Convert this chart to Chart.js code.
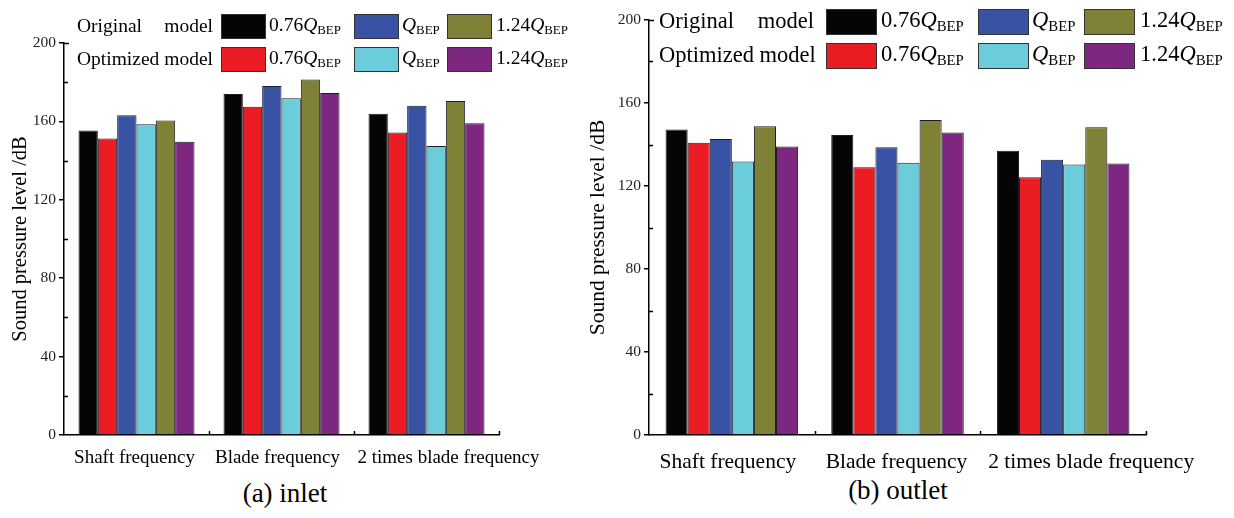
<!DOCTYPE html>
<html>
<head>
<meta charset="utf-8">
<script src="https://cdn.jsdelivr.net/npm/chart.js@4.4.0/dist/chart.umd.min.js"></script>
<style>
  body { margin: 0; background: #fff; width: 1234px; height: 518px; overflow: hidden; position: relative; font-family: "Liberation Serif", "Times New Roman", serif; }
  canvas { position: absolute; top: 0; }
  .lg { position: absolute; white-space: nowrap; color: #000; line-height: 1; }
  .box { position: absolute; border: 1px solid #333; box-sizing: border-box; }
  .lg sub { font-size: 0.66em; vertical-align: -0.25em; }
  .cap { position: absolute; font-size: 27px; text-align: center; width: 200px; }
</style>
</head>
<body>
<canvas id="inlet" width="560" height="475" style="left:0"></canvas>
<canvas id="outlet" width="654" height="475" style="left:580px"></canvas>
<div id="legends"></div>
<div class="cap" style="left:185px;top:478px">(a) inlet</div>
<div class="cap" style="left:798px;top:475px">(b) outlet</div>
<script>
// Data
const categories = ["Shaft frequency", "Blade frequency", "2 times blade frequency"];
const seriesLabels = ["Original 0.76Q_BEP", "Optimized 0.76Q_BEP", "Original Q_BEP", "Optimized Q_BEP", "Original 1.24Q_BEP", "Optimized 1.24Q_BEP"];
const seriesColors = ["#050505", "#ec1c24", "#3853a4", "#6bcddb", "#7f8136", "#7e2780"];

// inlet
const inletOrig076 = [155.4, 174.0, 163.9];
const inletOpt076 = [151.3, 167.5, 154.4];
const inletOrigQ = [163.1, 178.1, 168.0];
const inletOptQ = [158.5, 171.8, 147.5];
const inletOrig124 = [160.5, 181.4, 170.4];
const inletOpt124 = [149.6, 174.5, 159.0];

// outlet
const outletOrig076 = [147.2, 144.6, 137.0];
const outletOpt076 = [140.8, 129.0, 124.2];
const outletOrigQ = [142.6, 138.7, 132.6];
const outletOptQ = [131.8, 131.2, 130.4];
const outletOrig124 = [148.8, 151.8, 148.3];
const outletOpt124 = [139.0, 145.8, 130.9];

const yTicks = [0, 40, 80, 120, 160, 200];
const yMinor = [20, 60, 100, 140, 180];

// inward minor ticks on y, inward ticks on x at category edges, category labels
const innerTicks = {
    id: "innerTicks",
    afterDraw(chart, args, opts) {
        const ctx = chart.ctx;
        const xs = chart.scales.x;
        const ys = chart.scales.y;
        const area = chart.chartArea;
        ctx.save();
        ctx.strokeStyle = "#000";
        ctx.lineWidth = 1.5;
        ctx.beginPath();
        yMinor.forEach(v => {
            const py = Math.round(ys.getPixelForValue(v)) + 0.5;
            ctx.moveTo(area.left, py);
            ctx.lineTo(area.left + 4, py);
        });
        const top = Math.round(ys.getPixelForValue(200)) + 0.5;
        ctx.moveTo(area.left, top);
        ctx.lineTo(area.left + 5, top);
        for (let i = 0; i < categories.length; i++) {
            const px = Math.round(xs.getPixelForValue(i + 0.5)) + 0.5;
            ctx.moveTo(px, area.bottom);
            ctx.lineTo(px, area.bottom - 4);
        }
        ctx.stroke();
        // category labels (the source figure places them a little off-centre)
        ctx.fillStyle = "#000";
        ctx.font = `${opts.size}px "Liberation Serif"`;
        ctx.textAlign = "center";
        ctx.textBaseline = "middle";
        categories.forEach((c, i) => {
            ctx.fillText(c, xs.getPixelForValue(i) + opts.shift[i], area.bottom + opts.dy);
        });
        ctx.restore();
    }
};

function makeChart(id, values, opts) {
    const datasets = values.map((vals, i) => ({
        label: seriesLabels[i],
        data: vals,
        backgroundColor: seriesColors[i],
        borderColor: "#1c1c2a",
        borderWidth: 1,
        categoryPercentage: 0.8,
        barPercentage: 1.0
    }));
    return new Chart(document.getElementById(id), {
        type: "bar",
        data: { labels: categories, datasets: datasets },
        plugins: [innerTicks],
        options: {
            responsive: false,
            animation: false,
            layout: { padding: { top: opts.top, right: opts.right, left: 0, bottom: 0 } },
            plugins: {
                legend: { display: false },
                tooltip: { enabled: false },
                innerTicks: { size: opts.catSize, shift: opts.shift, dy: opts.labelDy }
            },
            scales: {
                x: {
                    grid: { display: false, drawTicks: false },
                    border: { display: true, color: "#000", width: 1.5 },
                    ticks: { display: false },
                    afterFit(scale) { scale.height = 40; }
                },
                y: {
                    min: 0,
                    max: 200,
                    afterBuildTicks(scale) { scale.ticks = yTicks.map(v => ({ value: v })); },
                    grid: { drawOnChartArea: false, tickLength: 5, color: "#000", lineWidth: 1.5 },
                    border: { display: true, color: "#000", width: 1.5 },
                    ticks: {
                        color: "#222",
                        padding: 3,
                        font: { family: "Liberation Serif", size: 15.5 }
                    },
                    title: {
                        display: true,
                        text: "Sound pressure level /dB",
                        color: "#000",
                        padding: opts.titlePad,
                        font: { family: "Liberation Serif", size: opts.titleSize, weight: "normal" }
                    },
                    afterFit(scale) { scale.width = opts.yWidth; }
                }
            }
        }
    });
}

makeChart("inlet",
    [inletOrig076, inletOpt076, inletOrigQ, inletOptQ, inletOrig124, inletOpt124],
    { top: 43, right: 61, yWidth: 64, catSize: 19, titleSize: 20.5, titlePad: { top: 8, bottom: 0 },
      shift: [-2, -4, 22], labelDy: 23 });
makeChart("outlet",
    [outletOrig076, outletOpt076, outletOrigQ, outletOptQ, outletOrig124, outletOpt124],
    { top: 20, right: 88, yWidth: 69, catSize: 21.5, titleSize: 21.5, titlePad: { top: 5, bottom: 0 },
      shift: [-4, -1, 28], labelDy: 27 });

// Legends (two rows, three columns each), HTML so the subscript stays real text
const legendRows = ["Original model", "Optimized model"];
const legendText = ["0.76<i>Q</i><sub>BEP</sub>", "<i>Q</i><sub>BEP</sub>", "1.24<i>Q</i><sub>BEP</sub>"];
const legendLayouts = [
    { size: 19.5, labelX: 77, labelW: 136, rowY: [14, 47], boxX: [221, 354, 447], textX: [269, 402, 496], boxW: 45, boxH: 25 },
    { size: 22.5, labelX: 659, labelW: 155, rowY: [9, 43], boxX: [826, 978, 1084], textX: [881, 1032, 1140], boxW: 51, boxH: 26 }
];
const host = document.getElementById("legends");
legendLayouts.forEach(L => {
    legendRows.forEach((row, r) => {
        const y = L.rowY[r];
        const lab = document.createElement("div");
        lab.className = "lg";
        lab.style.cssText = `left:${L.labelX}px;top:${y + L.boxH / 2 - L.size * 0.55}px;font-size:${L.size}px;width:${L.labelW}px;display:flex;justify-content:space-between;gap:0.25em;`;
        const words = row.split(" ");
        lab.innerHTML = `<span>${words[0]}</span><span>${words[1]}</span>`;
        host.appendChild(lab);
        for (let c = 0; c < 3; c++) {
            const box = document.createElement("div");
            box.className = "box";
            box.style.cssText = `left:${L.boxX[c]}px;top:${y}px;width:${L.boxW}px;height:${L.boxH}px;background:${seriesColors[c * 2 + r]};`;
            host.appendChild(box);
            const t = document.createElement("div");
            t.className = "lg";
            t.style.cssText = `left:${L.textX[c]}px;top:${y + L.boxH / 2 - L.size * 0.6}px;font-size:${L.size}px;`;
            t.innerHTML = legendText[c];
            host.appendChild(t);
        }
    });
});
</script>
</body>
</html>
